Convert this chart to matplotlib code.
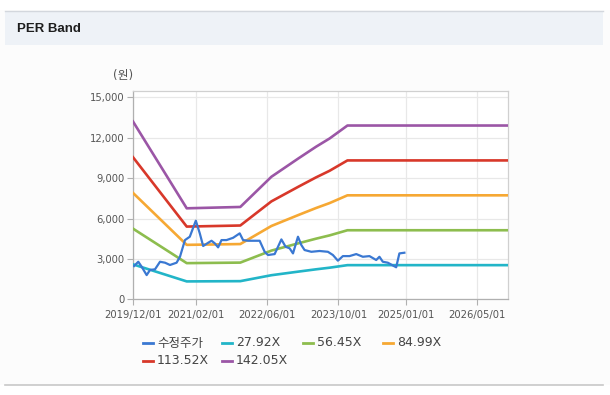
import matplotlib
matplotlib.use("Agg")
import matplotlib.pyplot as plt
import matplotlib.dates as mdates
from matplotlib.lines import Line2D
from matplotlib.patches import Rectangle
from matplotlib.ticker import FuncFormatter
import pandas as pd

# ---------------- data ----------------
title = "PER Band"
unit_label = "(원)"

price_dates = [
    "2019-12-08", "2020-01-06", "2020-01-29", "2020-03-03", "2020-03-26", "2020-04-29",
    "2020-06-02", "2020-07-06", "2020-08-09", "2020-09-23", "2020-10-16", "2020-11-19",
    "2020-12-22", "2021-02-01", "2021-02-28", "2021-03-23", "2021-04-26", "2021-05-19",
    "2021-06-10", "2021-07-03", "2021-07-26", "2021-08-29", "2021-10-13", "2021-11-27",
    "2021-12-20", "2022-01-23", "2022-04-12", "2022-05-16", "2022-06-08", "2022-07-23",
    "2022-09-07", "2022-10-06", "2022-11-02", "2022-11-25", "2022-12-29", "2023-01-21",
    "2023-02-12", "2023-03-30", "2023-05-25", "2023-07-21", "2023-08-24", "2023-09-27",
    "2023-10-31", "2023-12-15", "2024-01-30", "2024-03-15", "2024-04-29", "2024-06-14",
    "2024-07-06", "2024-07-29", "2024-09-01", "2024-10-28", "2024-11-19", "2024-12-23",
]
price_values = [
    2470, 2790, 2420, 1800, 2180, 2230,
    2790, 2720, 2550, 2720, 3160, 4400,
    4650, 5840, 4900, 3960, 4200, 4350,
    4160, 3860, 4400, 4400, 4570, 4900,
    4400, 4350, 4350, 3530, 3290, 3360,
    4450, 3900, 3790, 3410, 4650, 4030,
    3660, 3530, 3590, 3530, 3290, 2870,
    3210, 3210, 3360, 3160, 3210, 2920,
    3160, 2790, 2720, 2380, 3410, 3460,
]

eps_dates = ["2019-12-01", "2020-12-01", "2021-12-01", "2022-07-01", "2023-01-01",
             "2023-05-01", "2023-08-01", "2023-12-01", "2026-12-01"]
eps_values = [93.0, 47.6, 48.3, 64.1, 73.7, 79.8, 84.1, 90.9, 90.9]

per_multiples = [27.92, 56.45, 84.99, 113.52, 142.05]
band_labels = ["27.92X", "56.45X", "84.99X", "113.52X", "142.05X"]
price_label = "수정주가"

xtick_dates = ["2019-12-01", "2021-02-01", "2022-06-01", "2023-10-01", "2025-01-01", "2026-05-01"]
ytick_values = [0, 3000, 6000, 9000, 12000, 15000]

# ---------------- style ----------------
price_color = "#3a78d2"
band_colors = ["#22b5c8", "#8dbd4e", "#f6a833", "#d8382a", "#9b56a6"]

W, H = 610, 395
fig = plt.figure(figsize=(W / 100, H / 100), dpi=100, facecolor="#fcfcfc")

def fx(px):
    return px / W

def fy(py):
    return 1 - py / H

# page frame pieces
fig.add_artist(Rectangle((0, fy(10)), 1, fy(0) - fy(10), transform=fig.transFigure,
                         facecolor="white", edgecolor="none", zorder=0))
fig.add_artist(Rectangle((fx(5), fy(45)), fx(603) - fx(5), fy(11) - fy(45),
                         transform=fig.transFigure, facecolor="#eef2f7",
                         edgecolor="none", zorder=1))
fig.add_artist(Line2D([fx(5), fx(603)], [fy(11), fy(11)], transform=fig.transFigure,
                      color="#d3d7dd", lw=1.0, zorder=2))
fig.add_artist(Rectangle((0, 0), 1, fy(385), transform=fig.transFigure,
                         facecolor="white", edgecolor="none", zorder=0))
fig.add_artist(Line2D([fx(5), fx(603)], [fy(384.5), fy(384.5)], transform=fig.transFigure,
                      color="#c8c8c8", lw=1.2, zorder=2))
fig.text(fx(17), fy(29), title, fontsize=9.5, fontweight="bold", color="#1e1e1e",
         va="center", ha="left", family=["Liberation Sans", "DejaVu Sans"])

# axes
ax = fig.add_axes([fx(133), fy(299.3), fx(508.3) - fx(133), fy(90.7) - fy(299.3)])
ax.set_facecolor("white")

pdates = pd.to_datetime(price_dates)
edates = pd.to_datetime(eps_dates)

for mult, col, lab in zip(per_multiples, band_colors, band_labels):
    ax.plot(edates, [mult * e for e in eps_values], color=col, lw=1.9,
            solid_joinstyle="round", zorder=3, label=lab)
ax.plot(pdates, price_values, color=price_color, lw=1.6, zorder=5,
        solid_joinstyle="round", label=price_label)

ax.set_xlim(pd.Timestamp("2019-12-01"), pd.Timestamp("2026-12-01"))
ax.set_ylim(0, 15500)
ax.set_xticks(pd.to_datetime(xtick_dates))
ax.xaxis.set_major_formatter(mdates.DateFormatter("%Y/%m/%d"))
ax.set_yticks(ytick_values)
ax.yaxis.set_major_formatter(FuncFormatter(lambda v, p: f"{int(v):,}"))

ax.grid(True, color="#e8e8e8", lw=0.9, zorder=0)
for s in ax.spines.values():
    s.set_color("#d0d0d0")
    s.set_linewidth(0.9)
ax.spines["left"].set_color("#b0b0b0")
ax.spines["bottom"].set_color("#b0b0b0")
ax.tick_params(axis="both", colors="#b0b0b0", labelcolor="#555555", labelsize=7.5,
               length=4, width=0.8)
ax.tick_params(axis="y", pad=2)
ax.tick_params(axis="x", pad=4)
for lbl in ax.get_xticklabels() + ax.get_yticklabels():
    lbl.set_family(["DejaVu Sans"])
    lbl.set_fontsize(7.2)

fig.text(fx(123), fy(76), unit_label, fontsize=8.5, color="#555555", ha="center",
         va="center", family=["DejaVu Sans", "Noto Sans CJK KR"])

# manual legend
leg_labels = [price_label] + band_labels
leg_colors = [price_color] + band_colors
col_x = [143, 222, 303, 383]
row_y = [343, 361]
for i, (lab, col) in enumerate(zip(leg_labels, leg_colors)):
    r, c = divmod(i, 4)
    x0 = col_x[c]
    y0 = row_y[r]
    fig.add_artist(Line2D([fx(x0), fx(x0 + 10)], [fy(y0), fy(y0)],
                          transform=fig.transFigure, color=col, lw=2.0))
    fig.text(fx(x0 + 14), fy(y0), lab, fontsize=9, color="#444444", ha="left",
             va="center", family=["DejaVu Sans", "Noto Sans CJK KR"])

fig.savefig("out.png", dpi=100, facecolor=fig.get_facecolor())
